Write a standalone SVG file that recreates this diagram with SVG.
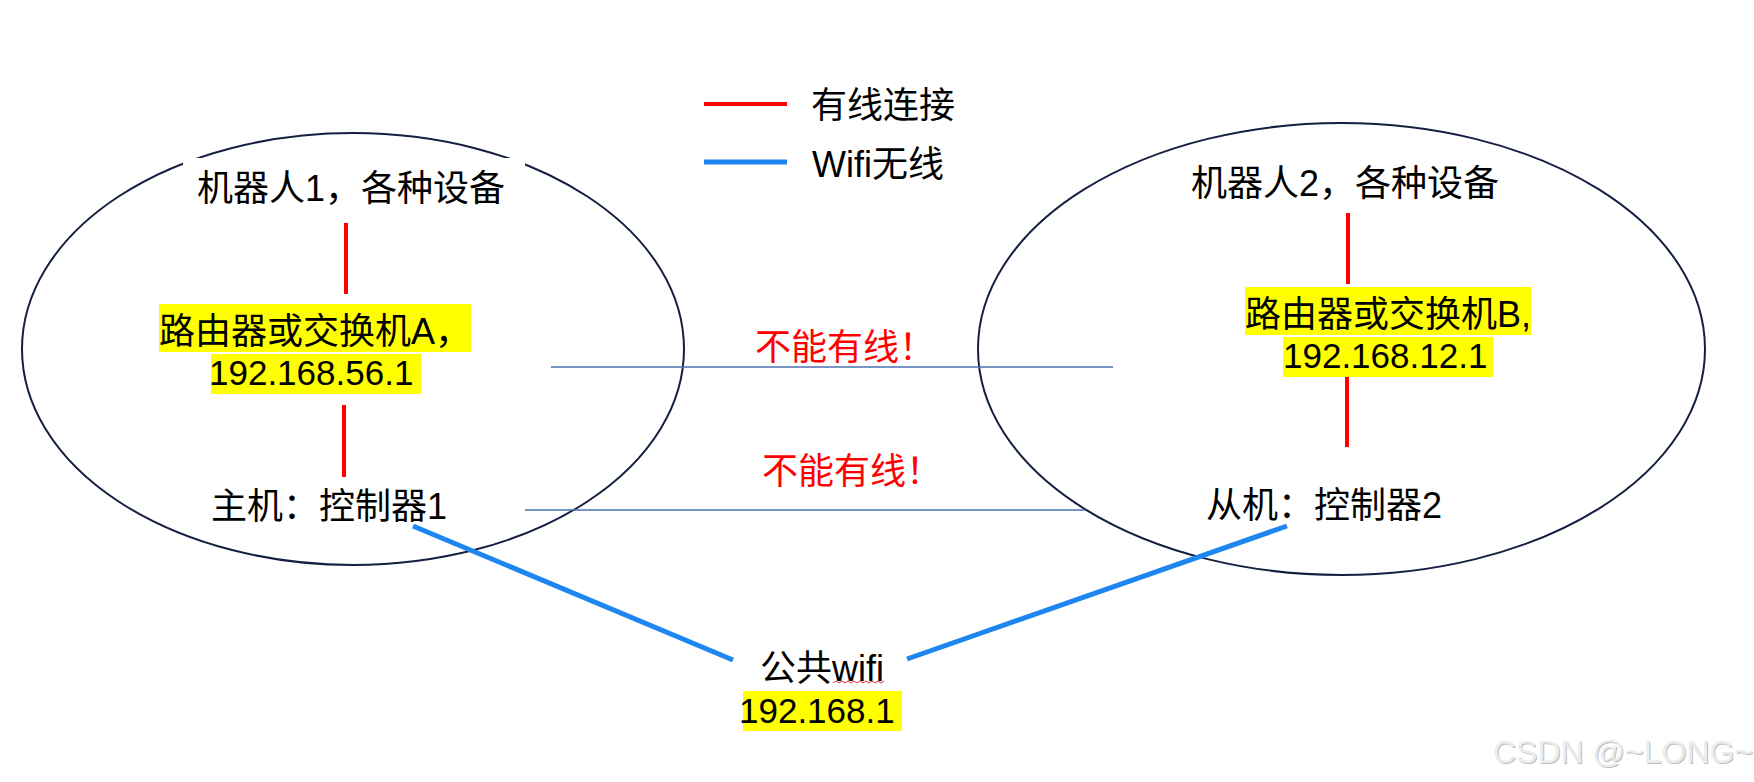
<svg xmlns="http://www.w3.org/2000/svg" width="1754" height="782" viewBox="0 0 1754 782">
<style>
.t{font-family:"Liberation Sans","Noto Sans CJK SC",sans-serif;font-size:36px;fill:#000}
.d{font-size:35px}
.r{fill:#FF0000}
.ell{fill:none;stroke:#14203f;stroke-width:2}
.wire{stroke:#FF0000;stroke-width:4;fill:none}
.wifi{stroke:#1E86F0;stroke-width:5;fill:none}
.no{stroke:#4A72B0;stroke-width:1.6;fill:none}
.hl{fill:#FFFF00}
.wm{font-family:"Liberation Sans",sans-serif;font-size:32px}
</style>
<rect width="1754" height="782" fill="#fff"/>
<g id="legend">
<line class="wire" x1="704" y1="104" x2="787" y2="104"/>
<line class="wifi" x1="704" y1="162" x2="787" y2="162"/>
<text class="t" x="811" y="118">有线连接</text>
<text class="t" x="812" y="177">Wifi无线</text>
</g>
<g id="robot1">
<ellipse class="ell" cx="353" cy="349" rx="331" ry="216"/>
<rect x="183" y="158" width="342" height="54" fill="#fff"/>
</g>
<g id="robot2">
<ellipse class="ell" cx="1341.5" cy="349" rx="363.5" ry="226"/>
</g>
<g id="connectors">
<line class="wire" x1="346" y1="223" x2="346" y2="294"/>
<line class="wire" x1="344" y1="405" x2="344" y2="477"/>
<line class="wire" x1="1348" y1="213" x2="1348" y2="284"/>
<line class="wire" x1="1347" y1="377" x2="1347" y2="447"/>
<line class="no" x1="551" y1="367" x2="1113" y2="367"/>
<line class="no" x1="525" y1="510" x2="1085" y2="510"/>
<line class="wifi" x1="413" y1="526" x2="733" y2="660"/>
<line class="wifi" x1="907" y1="659" x2="1287" y2="526"/>
</g>
<g id="devices1"><text class="t" x="197" y="201">机器人1，各种设备</text></g>
<g id="routerA">
<rect class="hl" x="159" y="304" width="312" height="48"/>
<rect class="hl" x="211" y="354" width="210" height="40"/>
<text class="t" x="159" y="344">路由器或交换机A，</text>
<text class="t d" x="209" y="385">192.168.56.1</text>
</g>
<g id="host1"><text class="t" x="211" y="519">主机：控制器1</text></g>
<g id="devices2"><text class="t" x="1191" y="196">机器人2，各种设备</text></g>
<g id="routerB">
<rect class="hl" x="1245" y="287" width="286" height="48"/>
<rect class="hl" x="1283" y="337" width="210" height="40"/>
<text class="t" x="1245" y="327">路由器或交换机B,</text>
<text class="t d" x="1283" y="368">192.168.12.1</text>
</g>
<g id="host2"><text class="t" x="1206" y="518">从机：控制器2</text></g>
<g id="labels">
<text class="t r" x="755" y="360">不能有线！</text>
<text class="t r" x="762" y="484">不能有线！</text>
</g>
<g id="wifi">
<text class="t" x="760" y="681">公共wifi</text>
<polyline points="833,683 836,681 839,683 842,681 845,683 848,681 851,683 854,681 857,683 860,681 863,683 866,681 869,683 872,681 875,683 878,681 881,683 884,681" fill="none" stroke="#E03030" stroke-width="1"/>
<rect class="hl" x="743" y="691" width="159" height="40"/>
<text class="t d" x="739" y="723">192.168.1</text>
</g>
<g id="watermark">
<text class="wm" x="1494" y="764" fill="#bdbdbd">CSDN @~LONG~</text>
<text class="wm" x="1493" y="763" fill="#ececec">CSDN @~LONG~</text>
</g>
</svg>
